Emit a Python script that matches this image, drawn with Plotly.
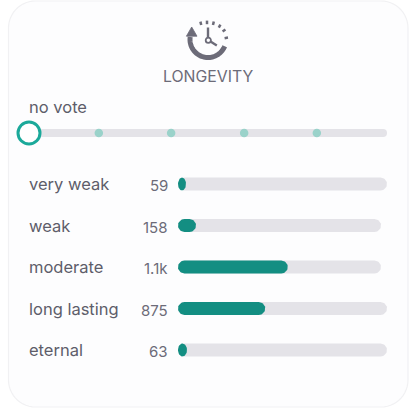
import numpy as np
import plotly.graph_objects as go

# ---- data ----
title = "LONGEVITY"
slider_label = "no vote"
slider_stops = [19.5, 39.7, 60.1, 80.4]
slider_current = [0]
slider_max = [100]
categories = ["very weak", "weak", "moderate", "long lasting", "eternal"]
vote_labels = ["59", "158", "1.1k", "875", "63"]
filled_length = [80, 180, 1098, 872, 90]
track_length = [2090, 2030, 2030, 2090, 2090]

# ---- style ----
W = 416
TEAL = "#138E82"
TRACK = "#E4E3E8"
TEXT = "#5E5D6A"
GREY = "#6C6B78"
FONT = "Inter, 'Liberation Sans', sans-serif"
ROW_PX = 41.5          # pixels per row
VAL_PX = 0.1           # pixels per vote
BAR_PX = 13            # bar thickness


def px(x):
    return x / W


def py(y):
    return 1 - y / W


def path(points, close=False):
    s = "M " + " L ".join(f"{px(x):.5f},{py(y):.5f}" for x, y in points)
    return s + (" Z" if close else "")


def line_shape(points, color=GREY, width=2.5):
    return dict(type="path", xref="paper", yref="paper", path=path(points),
                line=dict(color=color, width=width), layer="above")


def rounded(x0, y0, x1, y1, r):
    t = np.linspace(0, np.pi / 2, 14)
    pts = []
    for cx, cy, start in [(x1 - r, y0 + r, -np.pi / 2), (x1 - r, y1 - r, 0),
                          (x0 + r, y1 - r, np.pi / 2), (x0 + r, y0 + r, np.pi)]:
        pts += [(cx + r * np.cos(start + a), cy + r * np.sin(start + a)) for a in t]
    return path(pts, close=True)


def pill(value, row):
    """Rounded bar outline in axis units: 0..value wide, centred on the row."""
    half_y = BAR_PX / 2 / ROW_PX
    rx = min(BAR_PX / 2 / VAL_PX, value / 2)
    t = np.linspace(-np.pi / 2, np.pi / 2, 24)
    right_x = value - rx + rx * np.cos(t)
    right_y = row + half_y * np.sin(t)
    left_x = rx - rx * np.cos(t[::-1])
    left_y = row + half_y * np.sin(t[::-1])
    return list(right_x) + list(left_x) + [right_x[0]], list(right_y) + list(left_y) + [right_y[0]]


shapes = [
    dict(type="path", xref="paper", yref="paper", path=rounded(8.5, 1, 408, 407, 27),
         fillcolor="#FDFDFE", line=dict(color="#F1F1F3", width=1.2), layer="below"),
]

# clock icon
cx, cy, r = 208.0, 39.5, 18.0
arc = [(cx + r * np.cos(a), cy - r * np.sin(a)) for a in np.radians(np.linspace(172, 338, 44))]
shapes.append(line_shape(arc, width=5))
shapes.append(dict(type="path", xref="paper", yref="paper",
                   path=path([(191.7, 27), (186.4, 36.2), (197, 36.2)], close=True),
                   fillcolor=GREY, line=dict(color=GREY, width=0.8), layer="above"))
for a, b in [((200.4, 21.6), (201.2, 25)), ((207, 20.6), (207, 24.2)), ((213.8, 21.4), (213, 25)),
             ((220.4, 24.6), (218.8, 27.6)), ((225.4, 29.6), (222.6, 31.6)), ((228, 37.6), (224.6, 38.2))]:
    shapes.append(line_shape([a, b]))
shapes.append(line_shape([(208, 27.5), (208, 38)], width=2.4))
shapes.append(line_shape([(210.5, 41.5), (216.8, 45.4)], width=2.4))
shapes.append(dict(type="circle", xref="paper", yref="paper",
                   x0=px(205.7), x1=px(210.9), y0=py(42.9), y1=py(37.7),
                   fillcolor="rgba(0,0,0,0)", line=dict(color=GREY, width=1.8), layer="above"))

fig = go.Figure()

# tracks and filled bars
for i, (cat, total, v) in enumerate(zip(categories, track_length, filled_length)):
    for value, color in ((total, TRACK), (v, TEAL)):
        xs, ys = pill(value, i)
        fig.add_trace(go.Scatter(x=xs, y=ys, mode="lines", fill="toself", fillcolor=color,
                                 line=dict(width=0, color=color), name=cat, hoverinfo="skip"))

# slider
fig.add_trace(go.Bar(y=[slider_label], x=slider_max, orientation="h", width=1, xaxis="x2", yaxis="y2",
                     marker=dict(color=TRACK, cornerradius=4, line_width=0), hoverinfo="skip"))
fig.add_trace(go.Scatter(x=slider_stops, y=[slider_label] * len(slider_stops), mode="markers",
                         xaxis="x2", yaxis="y2", hoverinfo="skip",
                         marker=dict(size=8.5, color="#9AD2CA", line_width=0)))
fig.add_trace(go.Scatter(x=slider_current, y=[slider_label], mode="markers",
                         xaxis="x2", yaxis="y2", hoverinfo="skip",
                         marker=dict(size=22, color="#FFFFFF", line=dict(color="#1BA99A", width=3))))

annotations = [
    dict(text=title, x=px(208), y=py(76), xref="paper", yref="paper", showarrow=False,
         font=dict(family=FONT, size=15.8, color=GREY), xanchor="center", yanchor="middle"),
    dict(text=slider_label, x=px(27), y=py(106.5), xref="paper", yref="paper", showarrow=False,
         font=dict(family=FONT, size=16.5, color=TEXT), xanchor="left", yanchor="middle"),
]
for i, (c, t) in enumerate(zip(categories, vote_labels)):
    annotations.append(dict(text=c, x=px(27), y=i, xref="paper", yref="y", showarrow=False,
                            font=dict(family=FONT, size=16.5, color=TEXT), xanchor="left", yanchor="middle"))
    annotations.append(dict(text=t, x=px(170), y=i, xref="paper", yref="y", showarrow=False, yshift=-1.5,
                            font=dict(family=FONT, size=15, color=GREY), xanchor="right", yanchor="middle"))

hidden = dict(visible=False, showgrid=False, zeroline=False, fixedrange=True)
fig.update_layout(
    width=W, height=W, margin=dict(l=0, r=0, t=0, b=0, pad=0, autoexpand=False),
    paper_bgcolor="#FFFFFF", plot_bgcolor="rgba(0,0,0,0)", showlegend=False, barmode="overlay",
    shapes=shapes, annotations=annotations,
    xaxis=dict(range=[-178 / VAL_PX, (W - 178) / VAL_PX], domain=[0, 1], **hidden),
    yaxis=dict(range=[(W - 184) / ROW_PX, -184 / ROW_PX], domain=[0, 1], **hidden),
    xaxis2=dict(range=[-29 / 3.58, 387 / 3.58], domain=[0, 1], anchor="y2", overlaying="x", **hidden),
    yaxis2=dict(type="category", range=[283 / 8, -133 / 8], domain=[0, 1], anchor="x2", overlaying="y", **hidden),
)
fig.write_html("out.html", config={"displayModeBar": False},
               post_script="document.body.style.margin='0';document.body.style.overflow='hidden';")
